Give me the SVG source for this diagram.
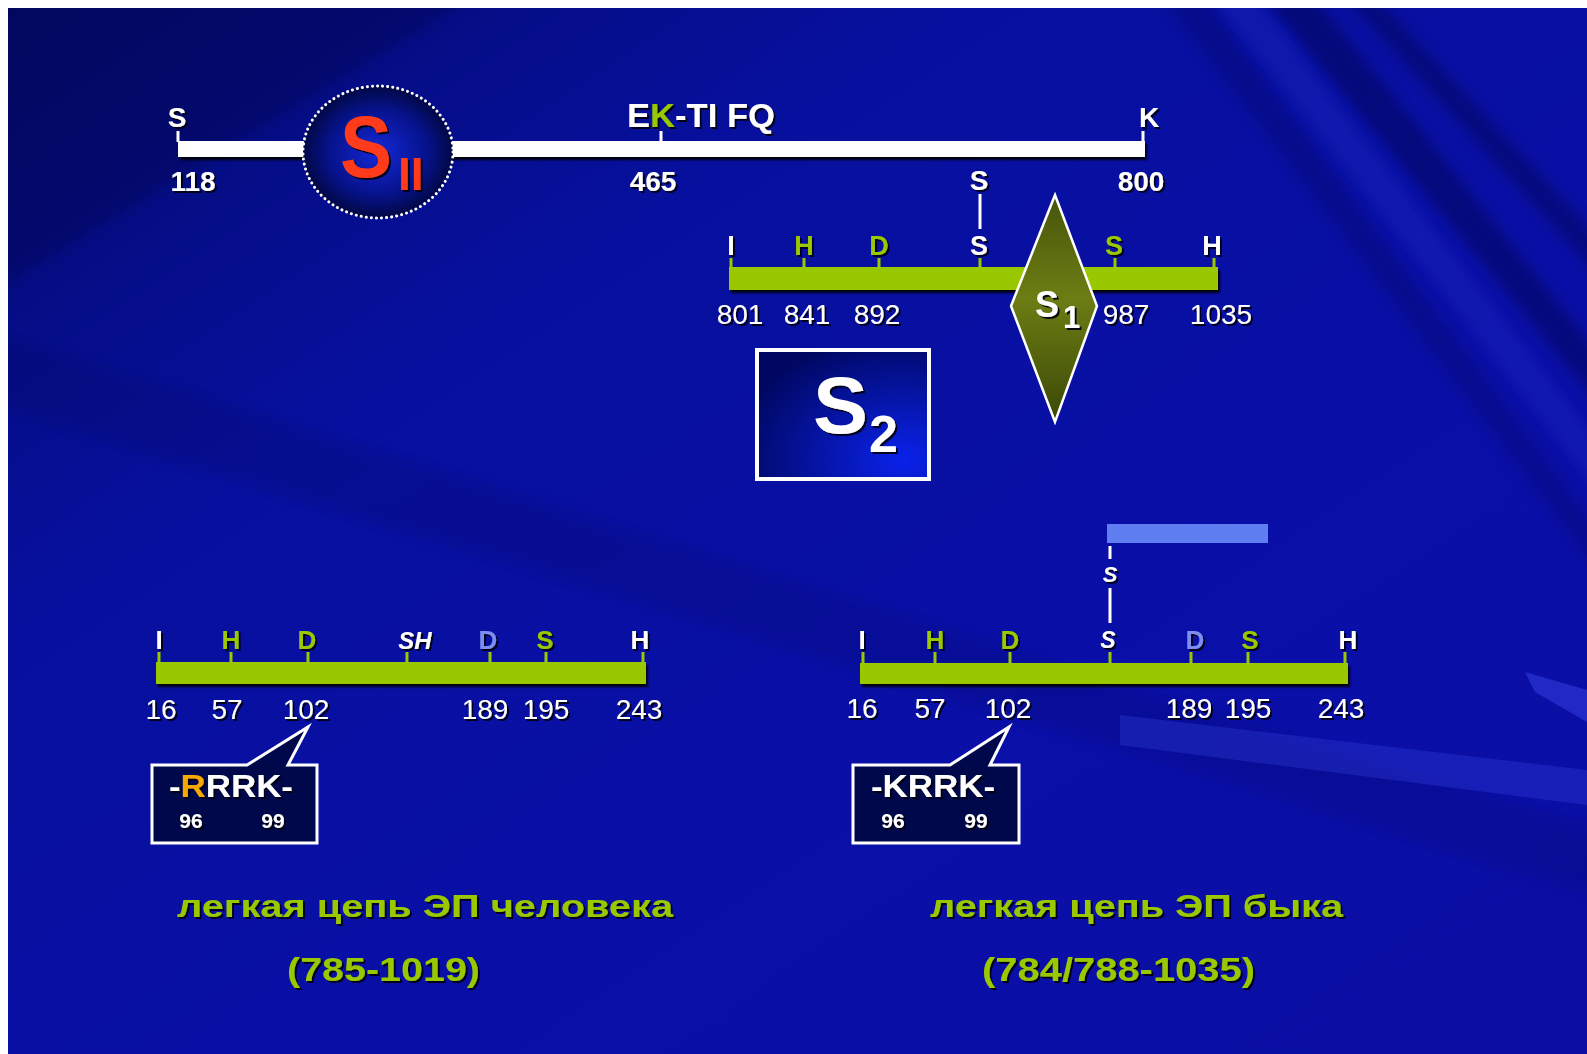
<svg xmlns="http://www.w3.org/2000/svg" width="1587" height="1054" viewBox="0 0 1587 1054">
<defs>
<linearGradient id="bg" x1="0" y1="0" x2="1" y2="1">
<stop offset="0" stop-color="#030a6e"/>
<stop offset="0.3" stop-color="#07109e"/>
<stop offset="0.7" stop-color="#0a0fa8"/>
<stop offset="1" stop-color="#0a0ea2"/>
</linearGradient>
<radialGradient id="ballG" cx="0.5" cy="0.5" r="0.55">
<stop offset="0" stop-color="#1428d8"/>
<stop offset="0.6" stop-color="#06128a"/>
<stop offset="1" stop-color="#000530"/>
</radialGradient>
<linearGradient id="diaG" x1="0" y1="0" x2="0" y2="1">
<stop offset="0" stop-color="#45540a"/>
<stop offset="0.45" stop-color="#6d7d14"/>
<stop offset="1" stop-color="#3a4806"/>
</linearGradient>
<radialGradient id="boxG" cx="0.85" cy="0.85" r="1">
<stop offset="0" stop-color="#0a22ea"/>
<stop offset="1" stop-color="#000760"/>
</radialGradient>
<clipPath id="bgclip"><rect x="8" y="8" width="1579" height="1046"/></clipPath>
<filter id="ts" x="-20%" y="-20%" width="150%" height="150%">
<feDropShadow dx="2" dy="2" stdDeviation="0.6" flood-color="#000010" flood-opacity="0.9"/>
</filter>
<filter id="bs" x="-5%" y="-50%" width="110%" height="250%">
<feDropShadow dx="2" dy="3" stdDeviation="0.8" flood-color="#000000" flood-opacity="0.9"/>
</filter>
<filter id="blur"><feGaussianBlur stdDeviation="6"/></filter>
</defs>
<style>
text{font-family:"Liberation Sans",Arial,sans-serif;font-weight:bold;filter:url(#ts)}
.w{fill:#ffffff}
.g{fill:#99c800}
.b{fill:#7b8ef2}
.o{fill:#f5a800}
.lbl{font-size:26px;text-anchor:middle}
.num{font-size:27px;font-weight:normal;text-anchor:middle;fill:#ffffff}
.numb{font-size:28px;text-anchor:middle;fill:#ffffff}
.bar{fill:#99c800;filter:url(#bs)}
.tick{stroke:#99c800;stroke-width:3}
.wl{stroke:#ffffff;stroke-width:3}
.call{fill:#00084c;stroke:#ffffff;stroke-width:3}
.cap{font-size:32px;fill:#99c800}
.small{font-size:21px;text-anchor:middle;fill:#ffffff}
.dray{fill:#000030}
.lray{fill:#4a5cff}
</style>

<rect x="0" y="0" width="1587" height="1054" fill="#ffffff"/>
<g id="background" clip-path="url(#bgclip)">
<rect x="8" y="8" width="1579" height="1046" fill="url(#bg)"/>
<g filter="url(#blur)">
<polygon class="dray" points="1250,-20 1300,-20 1620,380 1620,430" opacity="0.35"/>
<polygon class="dray" points="1330,-20 1360,-20 1620,260 1620,300" opacity="0.3"/>
<polygon class="dray" points="1150,-20 1190,-20 1620,560 1620,600" opacity="0.2"/>
<polygon class="lray" points="1200,-20 1240,-20 1620,470 1620,520" opacity="0.12"/>
<polygon class="dray" points="-20,330 1620,840 1620,900 -20,400" opacity="0.12"/>
<polygon class="dray" points="-20,-20 500,-20 -20,300" opacity="0.25"/>
</g>
<polygon class="lray" points="1120,715 1587,770 1587,805 1120,745" opacity="0.22"/>
<polygon class="lray" points="1525,672 1587,690 1587,722 1535,692" opacity="0.35"/>
</g>

<g id="heavy-chain">
<rect x="178" y="141" width="967" height="16" fill="#ffffff" filter="url(#bs)"/>
<line class="wl" x1="178" y1="131" x2="178" y2="142"/>
<line class="wl" x1="661" y1="131" x2="661" y2="142"/>
<line class="wl" x1="1143" y1="131" x2="1143" y2="142"/>
<text class="lbl w" x="177" y="127" style="font-size:28px">S</text>
<text class="numb" x="193" y="191">118</text>
<text class="w" x="627" y="127" style="font-size:34px" textLength="148" lengthAdjust="spacingAndGlyphs">E<tspan class="g">K</tspan>-TI FQ</text>
<text class="numb" x="653" y="191">465</text>
<text class="lbl w" x="1149" y="127" style="font-size:28px">K</text>
<text class="numb" x="1141" y="191">800</text>
</g>

<g id="sii-domain">
<ellipse cx="378" cy="152" rx="75" ry="66" fill="url(#ballG)" stroke="#ffffff" stroke-width="3" stroke-dasharray="0.1 5" stroke-linecap="round"/>
<text x="340" y="177" style="font-size:88px;fill:#ff3b1a" textLength="52" lengthAdjust="spacingAndGlyphs">S</text>
<text x="398" y="190" style="font-size:46px;fill:#ff3b1a">II</text>
</g>

<g id="connectors">
<line class="wl" x1="980" y1="194" x2="980" y2="229"/>
<line class="wl" x1="1110" y1="546" x2="1110" y2="559"/>
<line class="wl" x1="1110" y1="588" x2="1110" y2="623"/>
</g>

<g id="heavy-s-labels">
<text class="lbl w" x="979" y="190" style="font-size:28px">S</text>
</g>

<g id="light-chain-fragment">
<rect class="bar" x="729" y="267" width="489" height="23"/>
<line class="tick" x1="731" y1="258" x2="731" y2="268"/>
<line class="tick" x1="804" y1="258" x2="804" y2="268"/>
<line class="tick" x1="879" y1="258" x2="879" y2="268"/>
<line class="tick" x1="980" y1="258" x2="980" y2="268"/>
<line class="tick" x1="1115" y1="258" x2="1115" y2="268"/>
<line class="tick" x1="1214" y1="258" x2="1214" y2="268"/>
<text class="lbl w" x="731" y="255" style="font-size:27px">I</text>
<text class="lbl g" x="804" y="255" style="font-size:27px">H</text>
<text class="lbl g" x="879" y="255" style="font-size:27px">D</text>
<text class="lbl w" x="979" y="255" style="font-size:27px">S</text>
<text class="lbl g" x="1114" y="255" style="font-size:27px">S</text>
<text class="lbl w" x="1212" y="255" style="font-size:27px">H</text>
<text class="num" x="740" y="324" style="font-size:28px">801</text>
<text class="num" x="807" y="324" style="font-size:28px">841</text>
<text class="num" x="877" y="324" style="font-size:28px">892</text>
<text class="num" x="1126" y="324" style="font-size:28px">987</text>
<text class="num" x="1221" y="324" style="font-size:28px">1035</text>
</g>

<g id="s1-site">
<polygon points="1055,195 1097,306 1055,422 1011,306" fill="url(#diaG)" stroke="#ffffff" stroke-width="2.5"/>
<text class="w" x="1035" y="317" style="font-size:36px">S</text>
<text class="w" x="1063" y="328" style="font-size:31px">1</text>
</g>

<g id="s2-site">
<rect x="757" y="350" width="172" height="129" fill="url(#boxG)" stroke="#ffffff" stroke-width="4"/>
<text class="w" x="813" y="433" style="font-size:80px" textLength="55" lengthAdjust="spacingAndGlyphs">S</text>
<text class="w" x="869" y="452" style="font-size:52px">2</text>
</g>

<g id="human-light-chain">
<rect class="bar" x="156" y="662" width="490" height="22"/>
<line class="tick" x1="159" y1="652" x2="159" y2="663"/>
<line class="tick" x1="231" y1="652" x2="231" y2="663"/>
<line class="tick" x1="308" y1="652" x2="308" y2="663"/>
<line class="tick" x1="407" y1="652" x2="407" y2="663"/>
<line class="tick" x1="490" y1="652" x2="490" y2="663"/>
<line class="tick" x1="546" y1="652" x2="546" y2="663"/>
<line class="tick" x1="643" y1="652" x2="643" y2="663"/>
<text class="lbl w" x="159" y="649" style="font-size:26px">I</text>
<text class="lbl g" x="231" y="649" style="font-size:26px">H</text>
<text class="lbl g" x="307" y="649" style="font-size:26px">D</text>
<text class="lbl w" x="415" y="649" style="font-size:24px;font-style:italic">SH</text>
<text class="lbl b" x="488" y="649" style="font-size:26px">D</text>
<text class="lbl g" x="545" y="649" style="font-size:26px">S</text>
<text class="lbl w" x="640" y="649" style="font-size:26px">H</text>
<text class="num" x="161" y="719" style="font-size:28px">16</text>
<text class="num" x="227" y="719" style="font-size:28px">57</text>
<text class="num" x="306" y="719" style="font-size:28px">102</text>
<text class="num" x="485" y="719" style="font-size:28px">189</text>
<text class="num" x="546" y="719" style="font-size:28px">195</text>
<text class="num" x="639" y="719" style="font-size:28px">243</text>
</g>

<g id="human-callout">
<path class="call" d="M152,765 H247 L308,727 L288,765 H317 V843 H152 Z"/>
<text class="w" x="169" y="797" style="font-size:31px" textLength="124" lengthAdjust="spacingAndGlyphs">-<tspan class="o">R</tspan>RRK-</text>
<text class="small" x="191" y="828">96</text>
<text class="small" x="273" y="828">99</text>
</g>

<g id="bovine-heavy-fragment">
<rect x="1107" y="524" width="161" height="19" fill="#5f7ef2"/>
<text class="lbl w" x="1110" y="582" style="font-size:22px;font-style:italic">S</text>
</g>

<g id="bovine-light-chain">
<rect class="bar" x="860" y="663" width="488" height="21"/>
<line class="tick" x1="863" y1="652" x2="863" y2="664"/>
<line class="tick" x1="935" y1="652" x2="935" y2="664"/>
<line class="tick" x1="1010" y1="652" x2="1010" y2="664"/>
<line class="tick" x1="1110" y1="652" x2="1110" y2="664"/>
<line class="tick" x1="1191" y1="652" x2="1191" y2="664"/>
<line class="tick" x1="1248" y1="652" x2="1248" y2="664"/>
<line class="tick" x1="1345" y1="652" x2="1345" y2="664"/>
<text class="lbl w" x="862" y="649" style="font-size:26px">I</text>
<text class="lbl g" x="935" y="649" style="font-size:26px">H</text>
<text class="lbl g" x="1010" y="649" style="font-size:26px">D</text>
<text class="lbl w" x="1108" y="648" style="font-size:23px;font-style:italic">S</text>
<text class="lbl b" x="1195" y="649" style="font-size:26px">D</text>
<text class="lbl g" x="1250" y="649" style="font-size:26px">S</text>
<text class="lbl w" x="1348" y="649" style="font-size:26px">H</text>
<text class="num" x="862" y="718" style="font-size:28px">16</text>
<text class="num" x="930" y="718" style="font-size:28px">57</text>
<text class="num" x="1008" y="718" style="font-size:28px">102</text>
<text class="num" x="1189" y="718" style="font-size:28px">189</text>
<text class="num" x="1248" y="718" style="font-size:28px">195</text>
<text class="num" x="1341" y="718" style="font-size:28px">243</text>
</g>

<g id="bovine-callout">
<path class="call" d="M853,765 H950 L1009,727 L990,765 H1019 V843 H853 Z"/>
<text class="w" x="871" y="797" style="font-size:31px" textLength="124" lengthAdjust="spacingAndGlyphs">-KRRK-</text>
<text class="small" x="893" y="828">96</text>
<text class="small" x="976" y="828">99</text>
</g>

<g id="captions">
<text class="cap" x="177" y="917" textLength="496" lengthAdjust="spacingAndGlyphs">легкая цепь ЭП человека</text>
<text class="cap" x="287" y="981" style="font-size:34px" textLength="193" lengthAdjust="spacingAndGlyphs">(785-1019)</text>
<text class="cap" x="930" y="917" textLength="413" lengthAdjust="spacingAndGlyphs">легкая цепь ЭП быка</text>
<text class="cap" x="982" y="981" style="font-size:34px" textLength="273" lengthAdjust="spacingAndGlyphs">(784/788-1035)</text>
</g>
</svg>
